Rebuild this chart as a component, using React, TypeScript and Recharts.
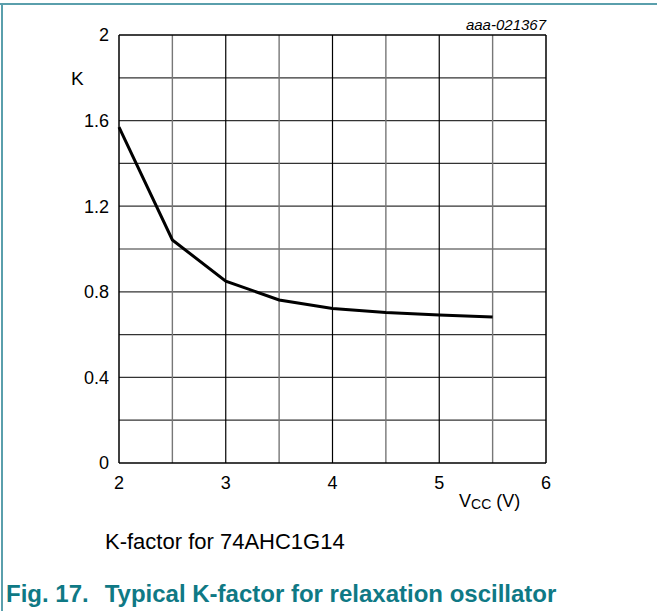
import React from 'react';
import { LineChart, Line, XAxis, YAxis, ReferenceLine } from 'recharts';

const vcc = [2, 2.5, 3, 3.5, 4, 4.5, 5, 5.5];
const kFactor = [1.57, 1.042, 0.85, 0.762, 0.722, 0.703, 0.692, 0.682];
const xTicks = [2, 3, 4, 5, 6];
const yTicks = [0, 0.4, 0.8, 1.2, 1.6, 2];
const xMajorGrid = [3, 4, 5];
const xMinorGrid = [2.5, 3.5, 4.5, 5.5];
const yGrid = [0.2, 0.4, 0.6, 0.8, 1.0, 1.2, 1.4, 1.6, 1.8];
const xFrame = [2, 6];
const yFrame = [0, 2];

const data = vcc.map((v, i) => ({ vcc: v, k: kFactor[i] }));

const FONT = '"Liberation Sans", Arial, sans-serif';
const TEAL = '#0f7985';
const BORDER = '#5a9fac';

export default function App() {
  return (
    <div style={{ position: 'absolute', left: 0, top: 0, width: 657, height: 611, background: '#fff', fontFamily: FONT, color: '#000' }}>
      <div style={{ position: 'absolute', left: 0, top: 3, width: 657, height: 2, background: BORDER }} />
      <div style={{ position: 'absolute', left: 1, top: 3, width: 2, height: 608, background: BORDER }} />
      <LineChart width={657} height={611} data={data} margin={{ top: 35, left: 79, right: 111, bottom: 118 }}>
        <XAxis
          dataKey="vcc"
          type="number"
          domain={[2, 6]}
          ticks={xTicks}
          height={30}
          tickSize={0}
          tickMargin={13}
          axisLine={false}
          tickLine={false}
          tick={{ fill: '#000', fontSize: 18, fontFamily: FONT }}
        />
        <YAxis
          type="number"
          domain={[0, 2]}
          ticks={yTicks}
          width={40}
          tickSize={0}
          tickMargin={10}
          axisLine={false}
          tickLine={false}
          tick={{ fill: '#000', fontSize: 18, fontFamily: FONT }}
        />
        {yGrid.map((y) => (
          <ReferenceLine key={'y' + y} y={y} stroke="#333" strokeWidth={1.2} ifOverflow="visible" />
        ))}
        {xMinorGrid.map((x) => (
          <ReferenceLine key={'xm' + x} x={x} stroke="#777" strokeWidth={1.4} ifOverflow="visible" />
        ))}
        {xMajorGrid.map((x) => (
          <ReferenceLine key={'xM' + x} x={x} stroke="#000" strokeWidth={1.2} ifOverflow="visible" />
        ))}
        {xFrame.map((x) => (
          <ReferenceLine key={'xf' + x} x={x} stroke="#000" strokeWidth={1.5} ifOverflow="visible" />
        ))}
        {yFrame.map((y) => (
          <ReferenceLine key={'yf' + y} y={y} stroke="#000" strokeWidth={1.5} ifOverflow="visible" />
        ))}
        <Line
          type="linear"
          dataKey="k"
          stroke="#000"
          strokeWidth={3}
          dot={false}
          isAnimationActive={false}
        />
      </LineChart>
      <div style={{ position: 'absolute', left: 71, top: 69, fontSize: 19, lineHeight: '20px' }}>K</div>
      <div style={{ position: 'absolute', right: 111, top: 16, fontSize: 15, lineHeight: '18px', fontStyle: 'italic', textAlign: 'right', whiteSpace: 'nowrap' }}>aaa-021367</div>
      <div style={{ position: 'absolute', left: 459, top: 490, fontSize: 18, lineHeight: '22px', whiteSpace: 'nowrap' }}>
        V<span style={{ fontSize: 14, position: 'relative', top: 2 }}>CC</span> (V)
      </div>
      <div style={{ position: 'absolute', left: 105, top: 529, fontSize: 22, lineHeight: '26px', whiteSpace: 'nowrap' }}>K-factor for 74AHC1G14</div>
      <div style={{ position: 'absolute', left: 6, top: 580, fontSize: 24, lineHeight: '28px', fontWeight: 'bold', color: TEAL, whiteSpace: 'nowrap' }}>
        Fig. 17.<span style={{ display: 'inline-block', width: 16 }} />Typical K-factor for relaxation oscillator
      </div>
    </div>
  );
}
